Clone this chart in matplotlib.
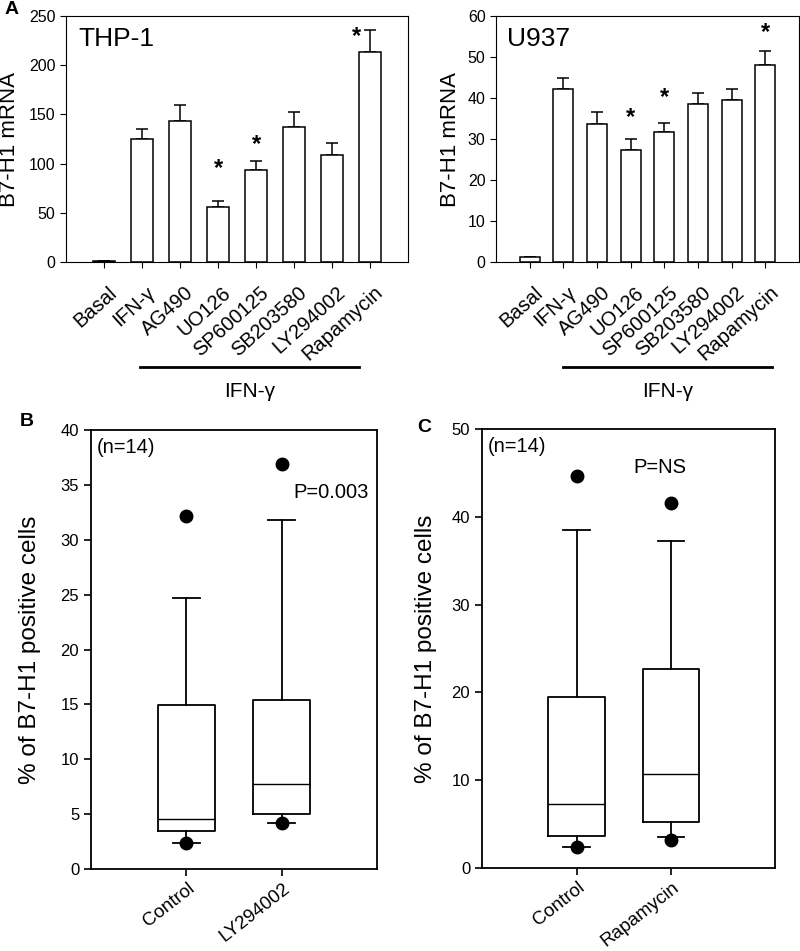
import matplotlib.pyplot as plt
import matplotlib.transforms as mtransforms
import numpy as np

plt.rcParams['font.family'] = ['Liberation Sans', 'DejaVu Sans']

# Panel A data
treatments = ['Basal', 'IFN-γ', 'AG490', 'UO126', 'SP600125', 'SB203580', 'LY294002', 'Rapamycin']
thp1_mean = [1, 125, 143, 56, 93, 137, 109, 213]
thp1_err = [0, 10, 17, 6, 10, 15, 12, 23]
thp1_star_x = [3, 4, 6.65]
thp1_star_y = [95, 119, 229]
u937_mean = [1.1, 42.1, 33.7, 27.2, 31.7, 38.6, 39.4, 48.0]
u937_err = [0, 2.9, 2.9, 2.8, 2.3, 2.6, 2.7, 3.5]
u937_star_x = [3, 4, 7]
u937_star_y = [35.3, 40.2, 55.9]

# Panel B / C box statistics
b_labels = ['Control', 'LY294002']
b_whislo = [2.33, 4.19]
b_q1 = [3.42, 5.02]
b_med = [4.52, 7.74]
b_q3 = [14.95, 15.38]
b_whishi = [24.65, 31.8]
b_fliers = [[32.2, 2.33], [36.9, 4.15]]

c_labels = ['Control', 'Rapamycin']
c_whislo = [2.37, 3.49]
c_q1 = [3.65, 5.19]
c_med = [7.26, 10.66]
c_q3 = [19.5, 22.7]
c_whishi = [38.46, 37.2]
c_fliers = [[44.6, 2.37], [41.6, 3.24]]

fig = plt.figure(figsize=(8, 9.51), dpi=100)


def shift_labels(ax, dx_px):
    off = mtransforms.ScaledTranslation(dx_px / 100, 0, fig.dpi_scale_trans)
    for lab in ax.get_xticklabels():
        lab.set_transform(lab.get_transform() + off)


def bar_panel(rect, means, errs, star_x, star_y, ymax, ystep, name, line_x, label_x):
    ax = fig.add_axes(rect)
    x = np.arange(len(treatments))
    ax.bar(x, means, width=0.6, color='white', edgecolor='black', linewidth=1.1, zorder=2)
    ax.errorbar(x, means, yerr=[np.zeros(len(errs)), errs], fmt='none', ecolor='black',
                elinewidth=1.1, capsize=4.5, capthick=1.1, zorder=1)
    for sx, sy in zip(star_x, star_y):
        ax.text(sx, sy, '*', ha='center', va='center', fontsize=17, fontweight='bold')
    ax.set_xlim(-1, 8)
    ax.set_ylim(0, ymax)
    ax.set_yticks(np.arange(0, ymax + 1, ystep))
    ax.set_xticks(x)
    ax.set_xticklabels(treatments, rotation=42, ha='right', va='top',
                       rotation_mode='anchor', fontsize=14.5)
    ax.tick_params(axis='y', labelsize=11.5, length=4, direction='out')
    ax.tick_params(axis='x', length=4, direction='out', pad=11)
    shift_labels(ax, 4)
    ax.set_ylabel('B7-H1 mRNA', fontsize=16)
    ax.yaxis.set_label_coords(label_x, 0.5)
    ax.text(0.035, 0.955, name, transform=ax.transAxes, fontsize=19, va='top', ha='left')
    tr = ax.get_xaxis_transform()
    ax.plot(line_x, [-0.427, -0.427], color='black', lw=2, transform=tr, clip_on=False)
    ax.text(np.mean(line_x), -0.528, 'IFN-γ', transform=tr, ha='center', va='center', fontsize=15)
    return ax


bar_panel([66 / 800, 1 - 262 / 951, 342 / 800, 246 / 951], thp1_mean, thp1_err,
          thp1_star_x, thp1_star_y, 250, 50, 'THP-1', [0.95, 6.7], -0.135)
bar_panel([496 / 800, 1 - 262 / 951, 303 / 800, 246 / 951], u937_mean, u937_err,
          u937_star_x, u937_star_y, 60, 10, 'U937', [1.0, 7.2], -0.115)


def box_panel(rect, labels, whislo, q1, med, q3, whishi, fliers, ymax, ystep, xmax,
              ptext, pxy, pha, label_x):
    ax = fig.add_axes(rect)
    stats = []
    for i in range(len(labels)):
        stats.append(dict(label=labels[i], whislo=whislo[i], q1=q1[i], med=med[i],
                          q3=q3[i], whishi=whishi[i], fliers=fliers[i]))
    ax.bxp(stats, positions=[1, 2], widths=0.6, capwidths=0.28,
           boxprops=dict(color='black', linewidth=1.3),
           whiskerprops=dict(color='black', linewidth=1.3),
           capprops=dict(color='black', linewidth=1.3),
           medianprops=dict(color='black', linewidth=1.0),
           flierprops=dict(marker='o', markerfacecolor='black', markeredgecolor='black',
                           markersize=9))
    ax.set_xlim(0, xmax)
    ax.set_ylim(0, ymax)
    ax.set_yticks(np.arange(0, ymax + 1, ystep))
    ax.set_xticks([1, 2])
    ax.set_xticklabels(labels, rotation=38, ha='right', va='top',
                       rotation_mode='anchor', fontsize=13.5)
    ax.tick_params(axis='y', labelsize=12, length=5, direction='out', width=1.2)
    ax.tick_params(axis='x', length=5, direction='out', pad=3, width=1.2)
    shift_labels(ax, 1)
    for s in ax.spines.values():
        s.set_linewidth(1.3)
    ax.set_ylabel('% of B7-H1 positive cells', fontsize=17.5)
    ax.yaxis.set_label_coords(label_x, 0.5)
    ax.text(0.02, 0.96, '(n=14)', transform=ax.transAxes, fontsize=14.5, va='center', ha='left')
    ax.text(pxy[0], pxy[1], ptext, transform=ax.transAxes, fontsize=14.5, va='center', ha=pha)
    return ax


box_panel([91 / 800, 1 - 869 / 951, 286 / 800, 439 / 951], b_labels, b_whislo, b_q1, b_med,
          b_q3, b_whishi, b_fliers, 40, 5, 3.0, 'P=0.003', (0.706, 0.857), 'left', -0.175)
box_panel([482 / 800, 1 - 868 / 951, 293 / 800, 439 / 951], c_labels, c_whislo, c_q1, c_med,
          c_q3, c_whishi, c_fliers, 50, 10, 3.1, 'P=NS', (0.607, 0.913), 'center', -0.154)

fig.text(12 / 800, 1 - 9 / 951, 'A', fontsize=14, fontweight='bold', ha='center', va='center')
fig.text(27 / 800, 1 - 422 / 951, 'B', fontsize=14, fontweight='bold', ha='center', va='center')
fig.text(424 / 800, 1 - 427 / 951, 'C', fontsize=14, fontweight='bold', ha='center', va='center')

fig.savefig('out.png', dpi=100)
